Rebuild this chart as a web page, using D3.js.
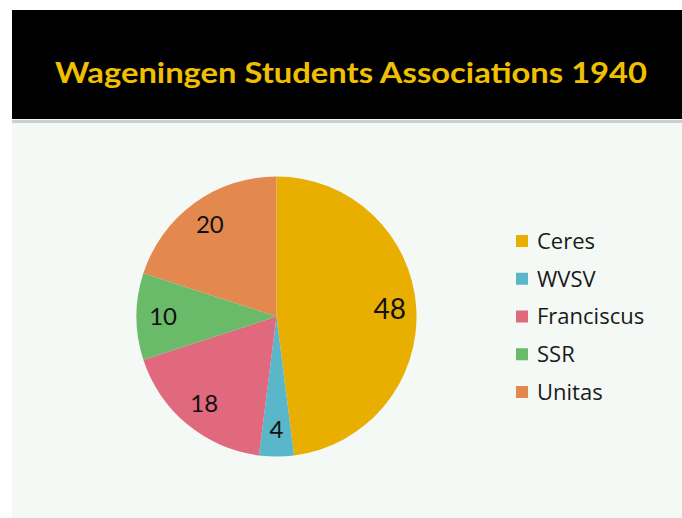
<!DOCTYPE html>
<html lang="en">
<head>
    <meta charset="UTF-8">
    <title>Wageningen Students Associations 1940</title>
    <script src="https://d3js.org/d3.v7.min.js"></script>
    <style>
        body {
            margin: 0;
            background: white;
            font-family: Lato, "Open Sans", sans-serif;
        }
    </style>
</head>
<body>
    <script>
        // Data
        var categories = ["Ceres", "WVSV", "Franciscus", "SSR", "Unitas"];
        var values = [48, 4, 18, 10, 20];
        var colors = ["#e8ae00", "#5ab6c9", "#e0697e", "#69ba69", "#e3884f"];
        var title = "Wageningen Students Associations 1940";

        var width = 682, height = 518;

        var svg = d3.select("body").append("svg")
            .attr("width", width)
            .attr("height", height);

        // slide background
        svg.append("rect")
            .attr("x", 12).attr("y", 10)
            .attr("width", width - 12).attr("height", height - 10)
            .attr("fill", "#f4f9f6");

        // header band
        svg.append("rect")
            .attr("x", 12).attr("y", 10)
            .attr("width", width - 12).attr("height", 109)
            .attr("fill", "#000");
        svg.append("rect")
            .attr("x", 12).attr("y", 120)
            .attr("width", width - 12).attr("height", 3)
            .attr("fill", "#c9d0cd");

        svg.append("text")
            .attr("x", 351).attr("y", 83)
            .attr("text-anchor", "middle")
            .attr("fill", "#f0c000")
            .attr("font-size", 29)
            .attr("font-weight", "bold")
            .attr("textLength", 592)
            .attr("lengthAdjust", "spacingAndGlyphs")
            .text(title);

        // pie
        var cx = 276.5, cy = 316.5, r = 140;
        var color = d3.scaleOrdinal().domain(categories).range(colors);

        var pie = d3.pie().sort(null).value(d => d.value);
        var arcs = pie(categories.map((c, i) => ({ name: c, value: values[i] })));

        var arc = d3.arc().innerRadius(0).outerRadius(r);
        var labelArc = d3.arc().innerRadius(r * 0.81).outerRadius(r * 0.81);

        var g = svg.append("g").attr("transform", "translate(" + cx + "," + cy + ")");

        g.selectAll("path")
            .data(arcs)
            .enter().append("path")
            .attr("d", arc)
            .attr("fill", d => color(d.data.name));

        g.selectAll("text")
            .data(arcs)
            .enter().append("text")
            .attr("transform", d => {
                var p = labelArc.centroid(d);
                return "translate(" + p[0] + "," + p[1] + ")";
            })
            .attr("text-anchor", "middle")
            .attr("dy", "0.35em")
            .attr("font-size", d => d.data.value > 40 ? 28 : 24)
            .attr("fill", "#111")
            .text(d => d.data.value);

        // legend
        var legend = svg.append("g");
        var rowY = d3.scalePoint().domain(categories).range([241, 392]);

        legend.selectAll("rect")
            .data(categories)
            .enter().append("rect")
            .attr("x", 516)
            .attr("y", d => rowY(d) - 6)
            .attr("width", 12).attr("height", 12)
            .attr("fill", d => color(d));

        legend.selectAll("text")
            .data(categories)
            .enter().append("text")
            .attr("x", 537)
            .attr("y", d => rowY(d))
            .attr("dy", "0.36em")
            .attr("font-family", "'Open Sans', sans-serif")
            .attr("font-size", 22)
            .attr("fill", "#1a1a1a")
            .text(d => d);
    </script>
</body>
</html>
